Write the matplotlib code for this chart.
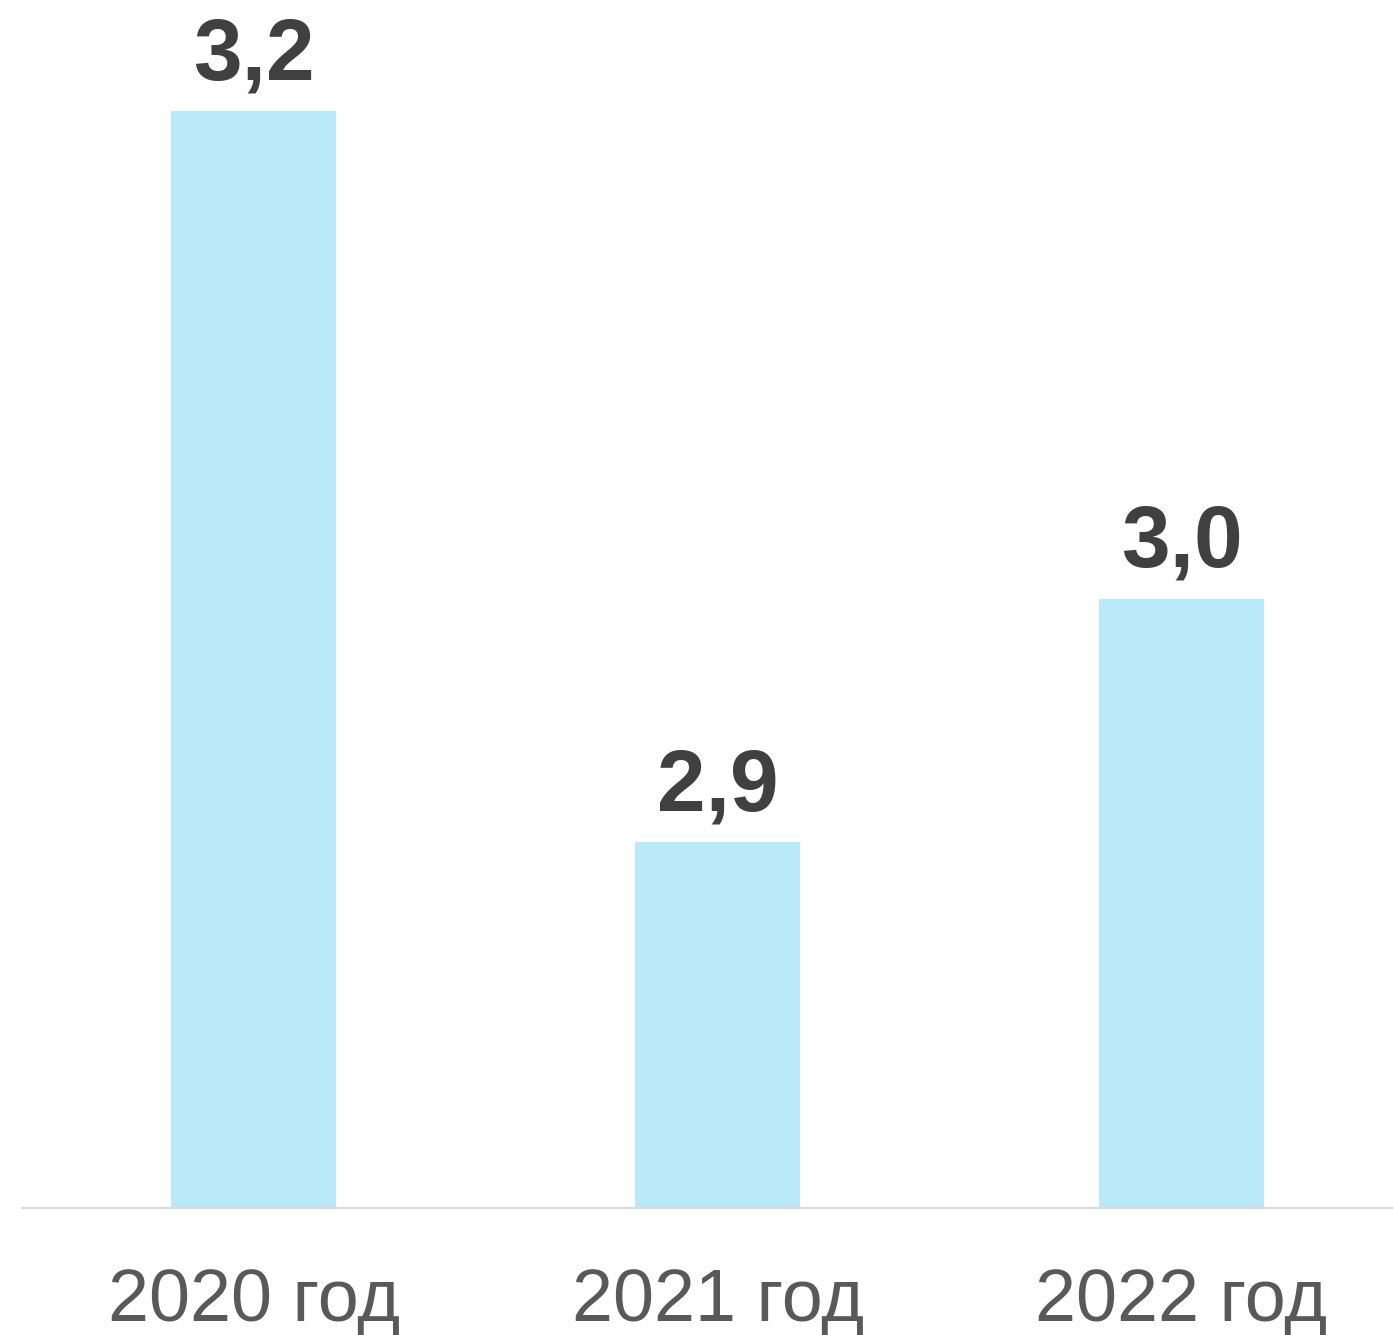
import matplotlib
matplotlib.use("Agg")
import matplotlib.pyplot as plt

categories = ["2020 год", "2021 год", "2022 год"]
values = [3.2, 2.9, 3.0]
labels = ["3,2", "2,9", "3,0"]

W, H = 1393, 1335
fig = plt.figure(figsize=(W / 100, H / 100), dpi=100)
ax = fig.add_axes([22 / W, (H - 1208) / H, 1 - 22 / W, 1208 / H])

x = list(range(len(categories)))
ax.bar(x, values, width=165 / 464, color="#B9E8F8", zorder=2)
ax.set_ylim(2.75, 2.75 + 1208 / 2437)
ax.set_xlim(-0.5, 2.456)

for xi, v, lab in zip(x, values, labels):
    ax.annotate(lab, (xi, v), xytext=(0, 10), textcoords="offset points",
                ha="center", va="bottom", fontsize=63, fontweight="bold",
                color="#404040", family="Liberation Sans")

ax.set_xticks(x)
ax.set_xticklabels(categories, fontsize=53, color="#595959", family="Liberation Sans")
ax.tick_params(axis="x", length=0, pad=43)
ax.set_yticks([])
for s in ["top", "right", "left"]:
    ax.spines[s].set_visible(False)
ax.spines["bottom"].set_color("#D9D9D9")
ax.spines["bottom"].set_linewidth(1.5)

fig.savefig("out.png", dpi=100)
